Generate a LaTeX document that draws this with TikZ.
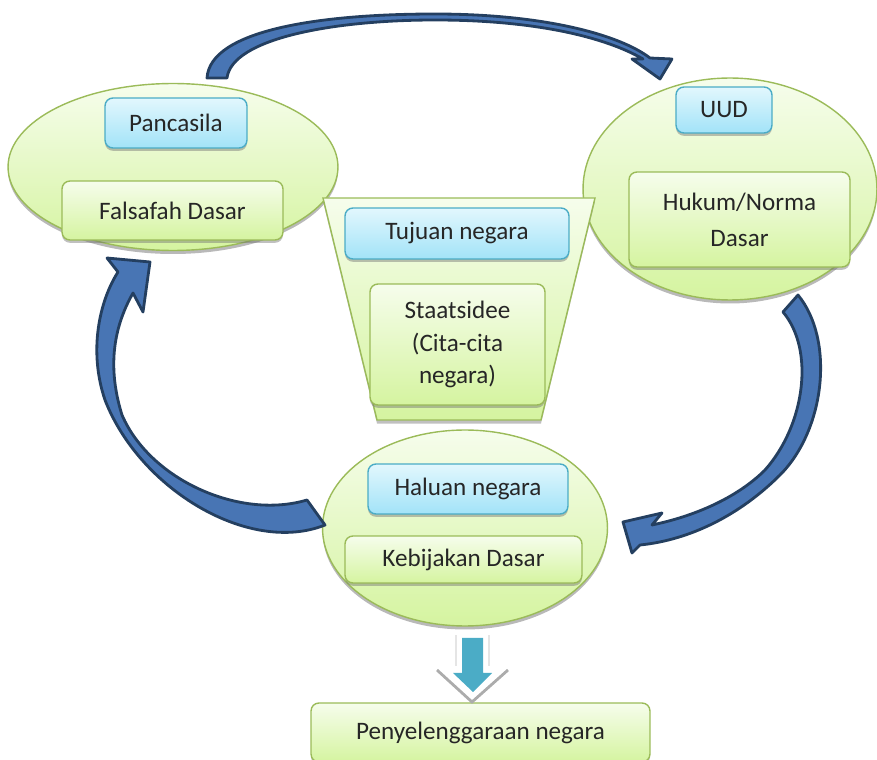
\documentclass[tikz,border=0pt]{standalone}
\usepackage{fontspec}
\setmainfont{Carlito}
\usetikzlibrary{shapes.geometric,shadows}

\definecolor{rimgreen}{RGB}{155,187,89}
\definecolor{palegreen}{RGB}{246,253,236}
\definecolor{limegreen}{RGB}{213,244,160}
\definecolor{rimblue}{RGB}{75,172,198}
\definecolor{paleblue}{RGB}{226,247,253}
\definecolor{skyblue}{RGB}{162,227,248}
\definecolor{arrowfill}{RGB}{72,117,180}
\definecolor{arrowrim}{RGB}{36,63,96}
\definecolor{downblue}{RGB}{75,172,198}
\definecolor{textgray}{RGB}{38,38,38}

\begin{document}
\begin{tikzpicture}[x=0.02cm, y=-0.02cm,
    bubble/.style={ellipse, draw=rimgreen, line width=0.8pt, top color=palegreen, bottom color=limegreen, inner sep=0pt,
      drop shadow={shadow xshift=0pt, shadow yshift=-2pt, fill=black!55, opacity=0.5}},
    greenbox/.style={rounded corners=4.5pt, draw=rimgreen, line width=0.8pt, top color=palegreen, bottom color=limegreen,
      text=textgray, align=center, inner sep=0pt, font=\fontsize{14.3}{18.4}\selectfont,
      drop shadow={shadow xshift=0pt, shadow yshift=-1.6pt, fill=black!55, opacity=0.45}},
    bluebox/.style={greenbox, draw=rimblue, top color=paleblue, bottom color=skyblue},
    blockarrow/.style={fill=arrowfill, draw=arrowrim, line width=1.6pt, line join=round}]

  \useasboundingbox (0,0) rectangle (877,760);
  \clip (0,0) rectangle (877,760);

  % Elips besar
  \node[bubble, minimum width=6.6cm, minimum height=3.34cm] (pan) at (173,167) {};
  \node[bubble, minimum width=5.88cm, minimum height=4.44cm] (uud) at (730,189) {};
  \node[bubble, minimum width=5.7cm, minimum height=3.92cm] (haluan) at (465,528) {};

  % Corong tengah
  \draw[draw=rimgreen, line width=0.8pt, top color=palegreen, bottom color=limegreen,
    drop shadow={shadow xshift=0pt, shadow yshift=-2pt, fill=black!55, opacity=0.45}]
    (323,198) -- (595,198) -- (541,420) -- (377,420) -- cycle;

  % Kotak Pancasila
  \node[bluebox, minimum width=2.84cm, minimum height=1.0cm] (pancasila) at (176,123) {Pancasila};
  \node[greenbox, minimum width=4.42cm, minimum height=1.18cm] (falsafah) at (172.5,210.5) {Falsafah Dasar};

  % Kotak UUD
  \node[bluebox, minimum width=1.92cm, minimum height=0.92cm] (undang) at (724,110) {UUD};
  \node[greenbox, minimum width=4.42cm, minimum height=1.9cm, font=\fontsize{14.3}{20.4}\selectfont] (hukum) at (739.5,219.5) {Hukum/Norma\\Dasar};

  % Kotak tujuan
  \node[bluebox, minimum width=4.48cm, minimum height=1.02cm] (tujuan) at (457,233.5) {Tujuan negara};
  \node[greenbox, minimum width=3.5cm, minimum height=2.42cm] (staats) at (457.5,344.5) {Staatsidee\\(Cita-cita\\negara)};

  % Kotak haluan
  \node[bluebox, minimum width=4.0cm, minimum height=1.0cm] (haluanbox) at (468,489) {Haluan negara};
  \node[greenbox, minimum width=4.74cm, minimum height=0.94cm] (kebijakan) at (463.5,559.5) {Kebijakan Dasar};

  % Kotak bawah
  \node[greenbox, minimum width=6.78cm, minimum height=1.18cm] (penyelenggaraan) at (480.5,732.5) {Penyelenggaraan negara};

  % Panah ke bawah
  \draw[gray!20, line width=1pt] (456,635) -- (456,666);
  \draw[gray!20, line width=1pt] (489,635) -- (489,666);
  \draw[gray!65, line width=1.6pt] (437,670) -- (472,702) -- (508,670);
  \fill[downblue] (462,638) -- (483,638) -- (483,673) -- (492,673) -- (473,692) -- (453,673) -- (462,673) -- cycle;

  % Panah Pancasila -> UUD
  \draw[blockarrow] (207,78) .. controls (210,30) and (320,14) .. (435,14)
    .. controls (545,14) and (620,35) .. (650,58) -- (672,59) -- (660,79) -- (632,59) -- (643,59)
    .. controls (605,37) and (535,20) .. (435,20) .. controls (335,20) and (232,38) .. (227,78) -- cycle;

  % Panah UUD -> Haluan
  \draw[blockarrow] (798,295) .. controls (835,340) and (825,430) .. (780,475)
    .. controls (740,515) and (690,540) .. (640,545) -- (632,553) -- (623,522) -- (662,513) -- (652,525)
    .. controls (700,515) and (740,495) .. (765,470) .. controls (805,425) and (815,350) .. (783,312) -- cycle;

  % Panah Haluan -> Pancasila
  \draw[blockarrow] (325,525) .. controls (250,555) and (140,490) .. (105,400)
    .. controls (88,350) and (100,300) .. (118,272) -- (107,258) -- (150,262) -- (143,312) -- (133,293)
    .. controls (112,330) and (108,370) .. (122,415) .. controls (150,480) and (240,520) .. (307,500) -- cycle;

\end{tikzpicture}
\end{document}
